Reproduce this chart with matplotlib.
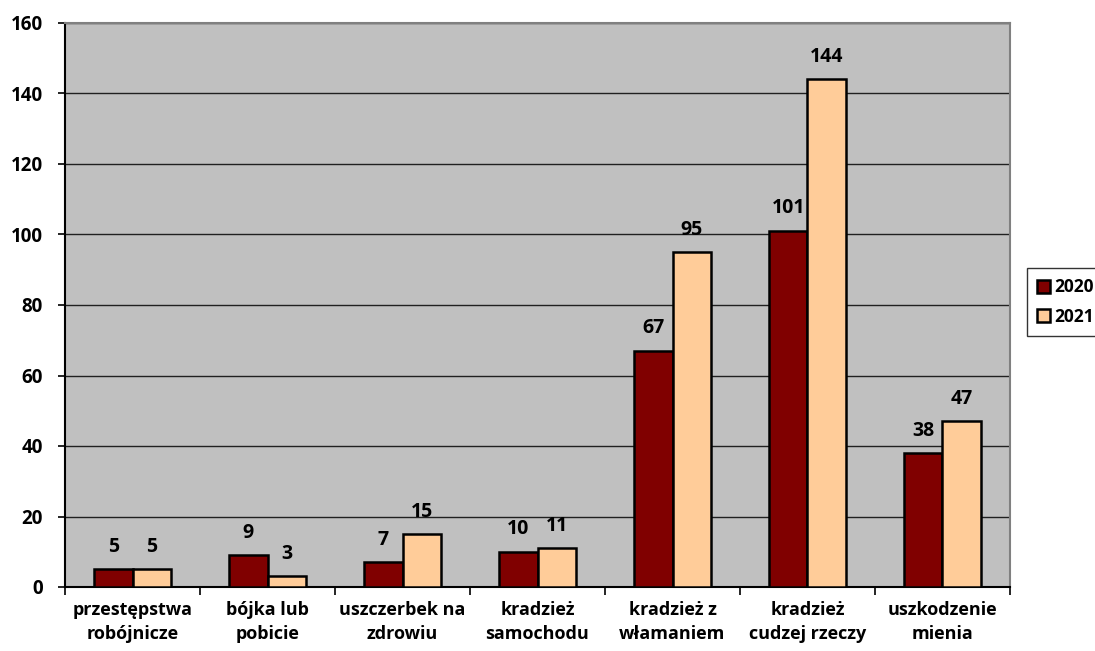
import matplotlib
matplotlib.use("Agg")
import matplotlib.pyplot as plt
from matplotlib import font_manager
from matplotlib.font_manager import FontProperties
import numpy as np

categories = ["przestępstwa\nrobójnicze", "bójka lub\npobicie", "uszczerbek na\nzdrowiu",
              "kradzież\nsamochodu", "kradzież z\nwłamaniem", "kradzież\ncudzej rzeczy",
              "uszkodzenie\nmienia"]
series_names = ["2020", "2021"]
values_2020 = [5, 9, 7, 10, 67, 101, 38]
values_2021 = [5, 3, 15, 11, 95, 144, 47]
yticks = [0, 20, 40, 60, 80, 100, 120, 140, 160]

def find_font(names):
    files = {f.fname.split('/')[-1]: f.fname for f in font_manager.fontManager.ttflist}
    for n in names:
        if n in files:
            return files[n]
    return None

path = find_font(['OpenSans-Bold.ttf', 'Roboto-Bold.ttf', 'LiberationSans-Bold.ttf'])
def mkfp(size):
    if path:
        return FontProperties(fname=path, size=size)
    return FontProperties(family='DejaVu Sans', weight='bold', size=size)

fp_val = mkfp(14)
fp_y = mkfp(13.5)
fp_cat = mkfp(13)
fp_leg = mkfp(12.5)

fig = plt.figure(figsize=(10.95, 6.51), dpi=100)
ax = fig.add_axes([65/1095, 1-587/651, 945/1095, 564/651])
ax.set_facecolor('#C0C0C0')

x = np.arange(len(categories))
w = 1/3.5
colors = ['#800000', '#FFCC99']
for i, (vals, c, name) in enumerate(zip([values_2020, values_2021], colors, series_names)):
    pos = x - w/2 + i*w
    bars = ax.bar(pos, vals, width=w, color=c, edgecolor='black', linewidth=1.8, label=name, zorder=3)
    for b, v in zip(bars, vals):
        ax.annotate(str(v), (b.get_x()+b.get_width()/2, v), xytext=(0, 9), textcoords='offset points',
                    ha='center', va='bottom', fontproperties=fp_val)

ax.set_xlim(-0.5, len(categories)-0.5)
ax.set_ylim(0, 160)
ax.set_yticks(yticks)
ax.set_yticklabels([str(t) for t in yticks], fontproperties=fp_y)
ax.yaxis.grid(True, color='#202020', linewidth=1, zorder=0)
ax.set_axisbelow(True)

ax.set_xticks(np.arange(len(categories)+1)-0.5)
ax.set_xticklabels([])
ax.set_xticks(x, minor=True)
ax.set_xticklabels(categories, minor=True, fontproperties=fp_cat, linespacing=1.45, va='top')
ax.tick_params(axis='x', which='minor', length=0, pad=10)
ax.tick_params(axis='x', which='major', length=6, width=1.2, direction='out')
ax.tick_params(axis='y', length=5, width=1.2, direction='out', pad=11)

for s in ['left', 'bottom']:
    ax.spines[s].set_color('black')
    ax.spines[s].set_linewidth(1.5)
for s in ['top', 'right']:
    ax.spines[s].set_color('#808080')
    ax.spines[s].set_linewidth(1.5)

leg = fig.legend(loc='upper left', bbox_to_anchor=(1027/1095, 1-268/651), prop=fp_leg,
                 frameon=True, fancybox=False, edgecolor='black', handlelength=0.75, handleheight=0.75,
                 handletextpad=0.2, borderpad=0.6, labelspacing=0.65, borderaxespad=0)
leg.get_frame().set_linewidth(1)

fig.savefig('out.png', dpi=100)
